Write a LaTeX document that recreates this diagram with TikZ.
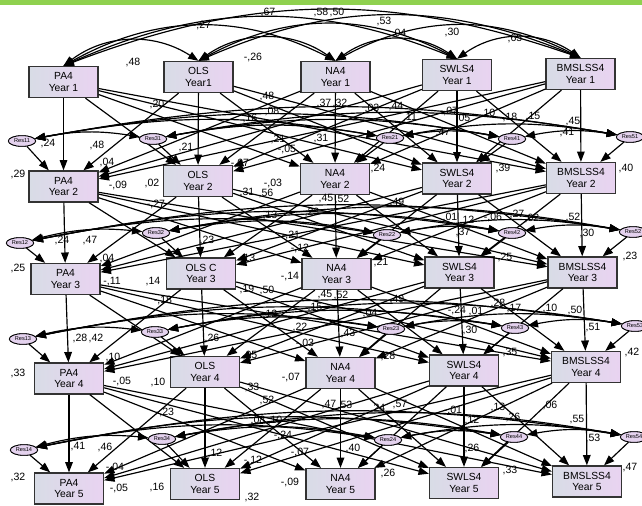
\documentclass[tikz,border=0pt]{standalone}
\usepackage{fontspec}
\setmainfont{Liberation Sans}
\usetikzlibrary{arrows.meta,shapes.geometric}

\definecolor{boxL}{HTML}{D8DCE6}
\definecolor{boxR}{HTML}{E9D3F1}
\definecolor{resfill}{HTML}{E4D2EE}
\definecolor{barGreen}{HTML}{8FD14F}

\tikzset{
  var/.style={draw=black!80, line width=1.1pt, left color=boxL, right color=boxR,
    minimum width=2.07cm, minimum height=0.93cm, inner sep=0pt, align=center,
    font=\fontsize{8.8}{9.8}\selectfont},
  resid/.style={ellipse, draw=black, line width=0.7pt, fill=resfill,
    minimum width=0.82cm, minimum height=0.32cm, inner sep=0pt,
    font=\fontsize{4.8}{5}\selectfont},
  tip/.tip={Triangle[length=3.1mm,width=2.3mm]},
  path/.style={line width=1pt, -tip},
  cov/.style={line width=1pt, tip-tip},
  lab/.style={inner sep=0pt, font=\fontsize{9}{10}\selectfont}
}

\begin{document}
\begin{tikzpicture}[x=0.03cm, y=-0.03cm]
\useasboundingbox (0,0) rectangle (642,506);
\fill[white] (0,0) rectangle (642,506);
\fill[barGreen] (0,0) rectangle (642,5);

% observed variables, one row per wave
\node[var] (p1) at (63.5,82)  {PA4\\Year 1};
\node[var] (o1) at (198.5,77) {OLS\\Year1};
\node[var] (n1) at (335.5,77) {NA4\\Year 1};
\node[var] (s1) at (457,75)   {SWLS4\\Year 1};
\node[var] (b1) at (580.5,74) {BMSLSS4\\Year 1};

\node[var] (p2) at (63.5,186.5) {PA4\\Year 2};
\node[var] (o2) at (198,181)    {OLS\\Year 2};
\node[var] (n2) at (335,179)    {NA4\\Year 2};
\node[var] (s2) at (457,178.5)  {SWLS4\\Year 2};
\node[var] (b2) at (581,178)    {BMSLSS4\\Year 2};

\node[var] (p3) at (65.5,279)   {PA4\\Year 3};
\node[var] (o3) at (201,273.5)  {OLS C\\Year 3};
\node[var] (n3) at (336.5,274)  {NA4\\Year 3};
\node[var] (s3) at (459.5,272.5){SWLS4\\Year 3};
\node[var] (b3) at (582.5,272.5){BMSLSS4\\Year 3};

\node[var] (p4) at (69,378.5)  {PA4\\Year 4};
\node[var] (o4) at (205,372)   {OLS\\Year 4};
\node[var] (n4) at (340.5,373) {NA4\\Year 4};
\node[var] (s4) at (464,370.5) {SWLS4\\Year 4};
\node[var] (b4) at (586,367)   {BMSLSS4\\Year 4};

\node[var] (p5) at (69,488.5)  {PA4\\Year 5};
\node[var] (o5) at (205,484)   {OLS\\Year 5};
\node[var] (n5) at (340.5,484) {NA4\\Year 5};
\node[var] (s5) at (464,483)   {SWLS4\\Year 5};
\node[var] (b5) at (587,481.5) {BMSLSS4\\Year 5};

% residuals (Res1k: PA, Res2k: NA, Res3k: OLS, Res4k: SWLS, Res5k: BMSLSS)
\node[resid] (r11) at (22,141)  {Res11};
\node[resid] (r31) at (153,139) {Res31};
\node[resid] (r21) at (390,138) {Res21};
\node[resid] (r41) at (512,139) {Res41};
\node[resid] (r51) at (630,137) {Res51};

\node[resid] (r12) at (20,243)  {Res12};
\node[resid] (r32) at (156,233) {Res32};
\node[resid] (r22) at (387,235) {Res22};
\node[resid] (r42) at (512,233) {Res42};
\node[resid] (r52) at (633,232) {Res52};

\node[resid] (r13) at (23,339)  {Res13};
\node[resid] (r33) at (155,332) {Res33};
\node[resid] (r23) at (391,329) {Res23};
\node[resid] (r43) at (515,328) {Res43};
\node[resid] (r53) at (635,326) {Res53};

\node[resid] (r14) at (24,450)  {Res14};
\node[resid] (r34) at (162,439) {Res34};
\node[resid] (r24) at (388,440) {Res24};
\node[resid] (r44) at (514,437) {Res44};
\node[resid] (r54) at (634,437) {Res54};

% covariances among the first-wave variables
\foreach \u/\v/\ang in {p/o/35, p/n/28, p/s/23, p/b/20, o/n/35, o/s/28, o/b/23, n/s/35, n/b/28, s/b/35}
  \draw[cov] (\u1.north) to[bend left=\ang] (\v1.north);

% cross-lagged and autoregressive paths
\foreach \t/\w in {1/2,2/3,3/4,4/5}
  \foreach \src in {p,o,n,s,b}
    \foreach \dst in {p,o,n,s,b}
      \draw[path] (\src\t) -- (\dst\w);

% residual to variable
\foreach \c/\k in {p/1,n/2,o/3,s/4,b/5}
  \foreach \t/\w in {1/2,2/3,3/4,4/5}
    \draw[path] (r\k\t) -- (\c\w);

% residual covariances within each wave
\foreach \t in {1,2,3,4}
  \foreach \u/\v in {1/3,1/2,1/4,1/5,3/2,3/4,3/5,2/4,2/5,4/5}
    \draw[cov] (r\u\t) to[bend left=10] (r\v\t);

% redraw residual ellipses on top
\foreach \k in {1,...,5}
  \foreach \t in {1,...,4}
    \node[resid] (top\k\t) at (r\k\t) {Res\k\t};

% estimates
\foreach \x/\y/\txt [count=\i] in {
  268/12/{,67}, 321/12/{,58}, 337/12/{,50}, 384/21/{,53}, 399/33/{,04}, 452/32/{,30}, 515/38/{,65},
  202/25/{-,27}, 133/62/{,48}, 253/57/{-,26},
  157/104/{,20}, 267/96/{,48}, 250/118/{,16}, 272/111/{,08}, 278/139/{,21}, 287/149/{-,05},
  240/163/{-,07}, 186/147/{,21}, 48/143/{,24}, 97/145/{,48}, 107/162/{,04}, 18/174/{,29},
  118/185/{-,09}, 152/183/{,02}, 273/183/{-,03}, 247/192/{,31}, 266/193/{,56}, 156/204/{-,27},
  378/168/{,24}, 503/168/{,39}, 626/168/{,40}, 573/122/{,45}, 567/133/{,41},
  488/113/{,10}, 510/117/{,18}, 533/117/{,15}, 449/111/{-,07}, 463/118/{,05},
  324/103/{,37}, 340/103/{,32}, 372/108/{,03}, 396/107/{,44}, 410/118/{,11}, 443/133/{,47}, 321/138/{,31},
  62/240/{,24}, 90/241/{,47}, 18/268/{,25}, 107/258/{,04}, 112/282/{-,11}, 153/282/{,14},
  207/240/{,23}, 248/258/{,13}, 290/277/{-,14}, 247/289/{,19}, 267/290/{,50}, 163/300/{-,18},
  291/235/{-,21}, 300/248/{-,12}, 326/199/{,45}, 342/199/{,52}, 397/202/{,49}, 381/262/{,21},
  505/257/{,25}, 630/256/{,23}, 573/217/{,52}, 587/233/{,30}, 517/214/{,27}, 532/218/{,02},
  493/217/{-,06}, 467/220/{,12}, 463/232/{,37}, 450/217/{,01}, 270/215/{,13}, 312/212/{,23},
  80/338/{,28}, 96/338/{,42}, 18/373/{,33}, 113/357/{,10}, 122/381/{-,05}, 158/382/{,10},
  212/338/{,26}, 250/355/{,05}, 291/377/{-,07}, 300/327/{,22}, 305/343/{-,03}, 348/333/{,43},
  388/356/{,28}, 397/299/{,49}, 325/295/{,45}, 341/295/{,52}, 370/313/{,04}, 315/308/{,15}, 270/314/{,12},
  510/352/{,35}, 632/352/{,42}, 550/308/{,10}, 575/310/{,50}, 593/328/{,51}, 498/303/{,28},
  514/309/{,17}, 457/310/{-,24}, 476/311/{,01}, 470/330/{,30},
  78/447/{,41}, 105/447/{,46}, 18/477/{,32}, 115/467/{-,04}, 119/488/{-,05}, 157/487/{,16},
  165/412/{-,23}, 215/453/{,12}, 253/460/{-,12}, 300/452/{-,07}, 290/482/{-,09}, 252/497/{,32},
  252/387/{,33}, 267/400/{,52}, 258/420/{,08}, 275/420/{,10}, 283/435/{-,24},
  353/448/{,40}, 388/473/{,26}, 329/405/{,47}, 345/405/{,53}, 378/408/{,24}, 400/405/{,57},
  453/410/{-,01}, 472/420/{,12}, 498/407/{,13}, 513/417/{,26}, 550/405/{,06},
  577/420/{,55}, 593/438/{,53}, 472/448/{,26}, 510/470/{,33}, 630/468/{,47}}
  \node[lab] (est\i) at (\x,\y) {\txt};
\end{tikzpicture}
\end{document}
